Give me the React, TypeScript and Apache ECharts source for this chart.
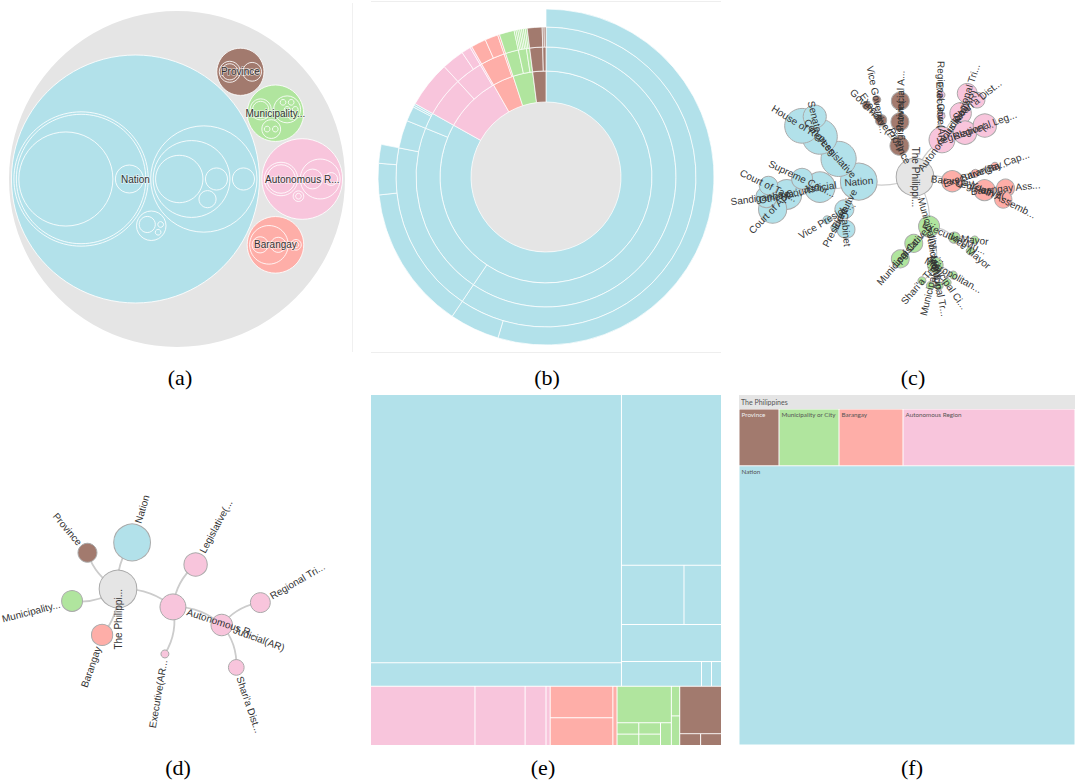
import React, { useEffect, useRef } from 'react';
import * as echarts from 'echarts';

type Pair = [string, number];

// ---------------- data ----------------
const congress: Pair[] = [['House of Representatives', 272], ['Senate', 24]];
const otherCourts: Pair[] = [['Court of Appeals', 69], ['Sandiganbayan', 15], ['Court of Tax Appeals', 9]];
const highCourt: Pair[] = [['Supreme Court', 15]];
const nationExecutive: Pair[] = [['Cabinet', 8], ['President', 1], ['Vice President', 1]];
const arLegislative: Pair[] = [['Regional Legislative Assembly', 25]];
const arJudicial: Pair[] = [['Regional Trial Court', 12], ["Shari'a District Court", 5]];
const arExecutive: Pair[] = [['Regional Governor', 1]];
const brgyLegislative: Pair[] = [['Barangay Assembly', 8], ['Youth Assembly', 7]];
const brgyExecutive: Pair[] = [['Barangay Captain', 1]];
const muniLegislative: Pair[] = [['Municipal Council', 8]];
const muniJudicial: Pair[] = [
  ['Metropolitan Trial Court', 1],
  ['Municipal Circuit Trial Court', 1],
  ['Municipal Trial Court', 1],
  ['Municipal Trial Court in Cities', 1],
  ["Shari'a Trial Court", 1],
];
const muniExecutive: Pair[] = [['Mayor', 1], ['Vice Mayor', 1]];
const provLegislative: Pair[] = [['Provincial Assembly', 8]];
const provExecutive: Pair[] = [['Governor', 1], ['Vice Governor', 1]];

const rootName = 'The Philippines';
const groupNames = ['Nation', 'Autonomous Region', 'Barangay', 'Municipality or City', 'Province'];
const cGroupOrder = ['Nation', 'Province', 'Autonomous Region', 'Barangay', 'Municipality or City'];
const expandedInD = ['The Philippines', 'Autonomous Region', 'Judicial(AR)'];
const captions = ['(a)', '(b)', '(c)', '(d)', '(e)', '(f)'];

// ---------------- styles ----------------
const groupColors = ['#b2e1ea', '#f8c5dc', '#feaea8', '#b0e59e', '#a27a6e'];
const rootColor = '#e5e5e5';
const SANS = "'Liberation Sans', Arial, sans-serif";

const leaves = (ps: Pair[]) => ps.map(([name, value]) => ({ name, value }));

const rawTree: any = {
  name: rootName,
  children: [
    {
      name: 'Nation',
      children: [
        { name: 'Legislative', children: [{ name: 'Congress', children: leaves(congress) }] },
        { name: 'Judicial', children: [{ name: 'Other Courts', children: leaves(otherCourts) }, ...leaves(highCourt)] },
        { name: 'Executive', children: leaves(nationExecutive) },
      ],
    },
    {
      name: 'Autonomous Region',
      children: [
        { name: 'Legislative(AR)', children: leaves(arLegislative) },
        { name: 'Judicial(AR)', children: leaves(arJudicial) },
        { name: 'Executive(AR)', children: leaves(arExecutive) },
      ],
    },
    {
      name: 'Barangay',
      children: [
        { name: 'Legislative(Barangay)', children: leaves(brgyLegislative) },
        { name: 'Executive(Barangay)', children: leaves(brgyExecutive) },
      ],
    },
    {
      name: 'Municipality or City',
      children: [
        { name: 'Legislative(Municipality)', children: leaves(muniLegislative) },
        { name: 'Judicial(Municipality)', children: leaves(muniJudicial) },
        { name: 'Executive(Municipality)', children: leaves(muniExecutive) },
      ],
    },
    {
      name: 'Province',
      children: [
        { name: 'Legislative(Province)', children: leaves(provLegislative) },
        { name: 'Executive(Province)', children: leaves(provExecutive) },
      ],
    },
  ],
};

interface HNode { name: string; value: number; children: HNode[]; color: string }

function finalize(n: any, color: string): HNode {
  const kids: HNode[] = (n.children || []).map((c: any) =>
    finalize(c, color === rootColor ? groupColors[groupNames.indexOf(c.name)] : color)
  );
  const value = kids.length ? kids.reduce((s, c) => s + c.value, 0) : n.value;
  return { name: n.name, value, children: kids, color };
}
const tree = finalize(rawTree, rootColor);

const truncate = (s: string) => (s.length > 12 ? s.slice(0, 12) + '...' : s);
const nodeSize = (v: number) => 8 + 11 * Math.log10(v);

// ---------------- circle packing (d3-style front chain) ----------------
function place(b: any, a: any, c: any) {
  const dx = b.x - a.x, dy = b.y - a.y, d2 = dx * dx + dy * dy;
  if (d2) {
    let a2 = a.r + c.r; a2 *= a2;
    let b2 = b.r + c.r; b2 *= b2;
    if (a2 > b2) {
      const x = (d2 + b2 - a2) / (2 * d2);
      const y = Math.sqrt(Math.max(0, b2 / d2 - x * x));
      c.x = b.x - x * dx - y * dy;
      c.y = b.y - x * dy + y * dx;
    } else {
      const x = (d2 + a2 - b2) / (2 * d2);
      const y = Math.sqrt(Math.max(0, a2 / d2 - x * x));
      c.x = a.x + x * dx - y * dy;
      c.y = a.y + x * dy + y * dx;
    }
  } else {
    c.x = a.x + c.r;
    c.y = a.y;
  }
}
function intersects(a: any, b: any) {
  const dr = a.r + b.r - 1e-6, dx = b.x - a.x, dy = b.y - a.y;
  return dr > 0 && dr * dr > dx * dx + dy * dy;
}
function score(node: any) {
  const a = node._, b = node.next._, ab = a.r + b.r;
  const dx = (a.x * b.r + b.x * a.r) / ab, dy = (a.y * b.r + b.y * a.r) / ab;
  return dx * dx + dy * dy;
}
function enclosesWeak(a: any, b: any) {
  const dr = a.r - b.r + Math.max(a.r, b.r, 1) * 1e-9, dx = b.x - a.x, dy = b.y - a.y;
  return dr > 0 && dr * dr > dx * dx + dy * dy;
}
function basis2(a: any, b: any) {
  const x21 = b.x - a.x, y21 = b.y - a.y, r21 = b.r - a.r, l = Math.sqrt(x21 * x21 + y21 * y21);
  return { x: (a.x + b.x + (x21 / l) * r21) / 2, y: (a.y + b.y + (y21 / l) * r21) / 2, r: (l + a.r + b.r) / 2 };
}
function basis3(a: any, b: any, c: any) {
  const x1 = a.x, y1 = a.y, r1 = a.r, x2 = b.x, y2 = b.y, r2 = b.r, x3 = c.x, y3 = c.y, r3 = c.r;
  const a2 = x1 - x2, a3 = x1 - x3, b2 = y1 - y2, b3 = y1 - y3, c2 = r2 - r1, c3 = r3 - r1;
  const d1 = x1 * x1 + y1 * y1 - r1 * r1;
  const d2 = d1 - x2 * x2 - y2 * y2 + r2 * r2;
  const d3 = d1 - x3 * x3 - y3 * y3 + r3 * r3;
  const ab = a3 * b2 - a2 * b3;
  const xa = (b2 * d3 - b3 * d2) / (ab * 2) - x1;
  const xb = (b3 * c2 - b2 * c3) / ab;
  const ya = (a3 * d2 - a2 * d3) / (ab * 2) - y1;
  const yb = (a2 * c3 - a3 * c2) / ab;
  const A = xb * xb + yb * yb - 1;
  const B = 2 * (r1 + xa * xb + ya * yb);
  const C = xa * xa + ya * ya - r1 * r1;
  const r = -(Math.abs(A) > 1e-6 ? (B + Math.sqrt(B * B - 4 * A * C)) / (2 * A) : C / B);
  return { x: x1 + xa + xb * r, y: y1 + ya + yb * r, r };
}
function enclose(cs: any[]) {
  let best: any = null;
  const consider = (e: any) => {
    if (!e || !isFinite(e.r) || !isFinite(e.x) || !isFinite(e.y)) return;
    if (!cs.every((c) => enclosesWeak(e, c))) return;
    if (!best || e.r < best.r) best = e;
  };
  for (let i = 0; i < cs.length; i++) consider({ x: cs[i].x, y: cs[i].y, r: cs[i].r });
  for (let i = 0; i < cs.length; i++) for (let j = i + 1; j < cs.length; j++) consider(basis2(cs[i], cs[j]));
  for (let i = 0; i < cs.length; i++)
    for (let j = i + 1; j < cs.length; j++)
      for (let k = j + 1; k < cs.length; k++) consider(basis3(cs[i], cs[j], cs[k]));
  return best;
}
function packSiblings(circles: any[]): number {
  const n = circles.length;
  if (!n) return 0;
  let a: any = circles[0], b: any, c: any;
  a.x = 0; a.y = 0;
  if (n === 1) return a.r;
  b = circles[1];
  a.x = -b.r; b.x = a.r; b.y = 0;
  if (n === 2) return a.r + b.r;
  place(b, a, (c = circles[2]));
  a = { _: a, next: null, previous: null };
  b = { _: b, next: null, previous: null };
  c = { _: c, next: null, previous: null };
  a.next = c.previous = b;
  b.next = a.previous = c;
  c.next = b.previous = a;
  pack: for (let i = 3; i < n; ++i) {
    place(a._, b._, (c = circles[i]));
    c = { _: c, next: null, previous: null };
    let j = b.next, k = a.previous, sj = b._.r, sk = a._.r;
    do {
      if (sj <= sk) {
        if (intersects(j._, c._)) { b = j; a.next = b; b.previous = a; --i; continue pack; }
        sj += j._.r; j = j.next;
      } else {
        if (intersects(k._, c._)) { a = k; a.next = b; b.previous = a; --i; continue pack; }
        sk += k._.r; k = k.previous;
      }
    } while (j !== k.next);
    c.previous = a; c.next = b; a.next = b.previous = b = c;
    let aa = score(a);
    while ((c = c.next) !== b) {
      const ca = score(c);
      if (ca < aa) { a = c; aa = ca; }
    }
    b = a.next;
  }
  const chain: any[] = [b._];
  c = b;
  while ((c = c.next) !== b) chain.push(c._);
  const e = enclose(chain);
  for (const ci of circles) { ci.x -= e.x; ci.y -= e.y; }
  return e.r;
}
function packRadii(n: any, pad: number) {
  if (!n.children.length) { n.r = Math.sqrt(n.value); return; }
  n.children.forEach((c: any) => packRadii(c, pad));
  const cs = n.children.map((c: any) => ({ x: 0, y: 0, r: c.r + pad }));
  const e = packSiblings(cs);
  n.children.forEach((c: any, i: number) => { c.x = cs[i].x; c.y = cs[i].y; });
  n.r = e + pad;
}
function computePack(root: HNode, cx: number, cy: number, R: number, padPx: number) {
  const clone = (h: HNode, depth: number): any => ({
    name: h.name, value: h.value, color: h.color, depth, x: 0, y: 0, r: 0,
    children: h.children.map((c) => clone(c, depth + 1)),
  });
  const p = clone(root, 0);
  packRadii(p, 0);
  const k1 = R / p.r;
  packRadii(p, padPx / 2 / k1);
  const k = R / p.r;
  const out: any[] = [];
  const walk = (n: any, ax: number, ay: number) => {
    out.push({ name: n.name, color: n.color, depth: n.depth, x: ax, y: ay, r: n.r * k });
    n.children.forEach((c: any) => walk(c, ax + c.x * k, ay + c.y * k));
  };
  walk(p, cx, cy);
  return out;
}
const packNodes = computePack(tree, 177, 179, 168, 3);

// ---------------- series data builders ----------------
function toSeriesNode(h: HNode): any {
  const o: any = { name: h.name, value: h.value, itemStyle: { color: h.color } };
  if (h.children.length) o.children = h.children.map(toSeriesNode);
  return o;
}

interface GNode { name: string; size: number; color: string; parent: string | null; depth: number }
interface G { nodes: GNode[]; links: [string, string][] }
function collectGraph(root: HNode, expand: (n: HNode) => boolean, order: (k: HNode[], d: number) => HNode[]): G {
  const g: G = { nodes: [], links: [] };
  const walk = (n: HNode, parent: string | null, depth: number) => {
    g.nodes.push({ name: n.name, size: nodeSize(n.value), color: n.color, parent, depth });
    if (parent) g.links.push([parent, n.name]);
    if (expand(n)) order(n.children.slice(), depth).forEach((c) => walk(c, n.name, depth + 1));
  };
  walk(root, null, 0);
  return g;
}
const cGraph = collectGraph(tree, () => true, (k, d) => {
  if (d === 0) return k.sort((a, b) => cGroupOrder.indexOf(a.name) - cGroupOrder.indexOf(b.name));
  if (d === 1) return k.sort((a, b) => a.value - b.value);
  return k;
});
const dGraph = collectGraph(tree, (n) => expandedInD.includes(n.name), (k) => k);

// radial-tree start followed by a d3-style force relaxation (link + many-body + collide)
function simulate(g: G, linkDistance: number, charge: number, ticks: number, collidePad: number) {
  const n = g.nodes.length;
  const idx: Record<string, number> = {};
  g.nodes.forEach((nd, i) => (idx[nd.name] = i));
  const kids: number[][] = g.nodes.map(() => []);
  g.links.forEach(([s, t]) => kids[idx[s]].push(idx[t]));
  const leafOrder: number[] = [];
  const dfs = (i: number) => { if (!kids[i].length) leafOrder.push(i); kids[i].forEach(dfs); };
  dfs(0);
  const ang: number[] = new Array(n).fill(0);
  leafOrder.forEach((li, k) => (ang[li] = (2 * Math.PI * (k + 0.5)) / leafOrder.length));
  const fillAng = (i: number): number => {
    if (!kids[i].length) return ang[i];
    const a = kids[i].map(fillAng);
    ang[i] = a.reduce((s, v) => s + v, 0) / a.length;
    return ang[i];
  };
  fillAng(0);
  const X: number[] = [], Y: number[] = [], VX: number[] = [], VY: number[] = [];
  const RR = g.nodes.map((nd) => nd.size / 2 + collidePad);
  g.nodes.forEach((nd, i) => {
    const r = nd.depth * linkDistance;
    X.push(r * Math.cos(ang[i])); Y.push(r * Math.sin(ang[i])); VX.push(0); VY.push(0);
  });
  const count = new Array(n).fill(0);
  g.links.forEach(([s, t]) => { count[idx[s]]++; count[idx[t]]++; });
  const L = g.links.map(([s, t]) => {
    const a = idx[s], b = idx[t];
    return { s: a, t: b, str: 1 / Math.min(count[a], count[b]), bias: count[a] / (count[a] + count[b]) };
  });
  let alpha = 1;
  const alphaDecay = 1 - Math.pow(0.001, 1 / 300);
  for (let k = 0; k < ticks; k++) {
    alpha += (0 - alpha) * alphaDecay;
    for (const l of L) {
      let x = X[l.t] + VX[l.t] - X[l.s] - VX[l.s];
      let y = Y[l.t] + VY[l.t] - Y[l.s] - VY[l.s];
      let len = Math.sqrt(x * x + y * y) || 1e-6;
      len = ((len - linkDistance) / len) * alpha * l.str;
      x *= len; y *= len;
      VX[l.t] -= x * l.bias; VY[l.t] -= y * l.bias;
      VX[l.s] += x * (1 - l.bias); VY[l.s] += y * (1 - l.bias);
    }
    for (let i = 0; i < n; i++) {
      for (let j = 0; j < n; j++) {
        if (i === j) continue;
        const dx = X[j] - X[i], dy = Y[j] - Y[i];
        let l2 = dx * dx + dy * dy;
        if (l2 < 1) l2 = Math.sqrt(l2 || 1e-6);
        const w = (charge * alpha) / l2;
        VX[i] += dx * w; VY[i] += dy * w;
      }
    }
    for (let i = 0; i < n; i++) {
      for (let j = i + 1; j < n; j++) {
        let x = X[i] + VX[i] - X[j] - VX[j];
        let y = Y[i] + VY[i] - Y[j] - VY[j];
        const r = RR[i] + RR[j];
        let l = x * x + y * y;
        if (l < r * r) {
          l = Math.sqrt(l) || 1e-6;
          l = ((r - l) / l) * 0.7;
          x *= l; y *= l;
          const ri2 = RR[i] * RR[i], rj2 = RR[j] * RR[j];
          const share = rj2 / (ri2 + rj2);
          VX[i] += x * share; VY[i] += y * share;
          VX[j] -= x * (1 - share); VY[j] -= y * (1 - share);
        }
      }
    }
    for (let i = 0; i < n; i++) {
      VX[i] *= 0.6; VY[i] *= 0.6;
      X[i] += VX[i]; Y[i] += VY[i];
    }
  }
  const out: Record<string, number[]> = {};
  g.nodes.forEach((nd, i) => (out[nd.name] = [X[i], Y[i]]));
  return out;
}

function forceGraph(g: G, box: any, force: any, lineStyle: any) {
  return {
    type: 'graph',
    layout: 'force',
    ...box,
    roam: false,
    silent: true,
    force: { ...force, initLayout: 'circular', layoutAnimation: false },
    data: g.nodes.map((n) => ({
      name: n.name,
      symbolSize: n.size,
      itemStyle: { color: n.color, borderColor: '#aaaaaa', borderWidth: 1 },
    })),
    links: g.links.map(([s, t]) => ({ source: s, target: t })),
    lineStyle,
    label: { show: false },
    emphasis: { disabled: true },
  };
}

function orient(raw: Record<string, number[]>, g: G, anchor: string, anchorAng: number, side: string, sideSign: number, origin: number[], maxR: number) {
  const o = raw[g.nodes[0].name];
  const a = raw[anchor];
  const rot = anchorAng - Math.atan2(a[1] - o[1], a[0] - o[0]);
  const c = Math.cos(rot), s = Math.sin(rot);
  const vec: Record<string, number[]> = {};
  for (const n of g.nodes) {
    const p = raw[n.name];
    const x = p[0] - o[0], y = p[1] - o[1];
    vec[n.name] = [x * c - y * s, x * s + y * c];
  }
  const sv = vec[side];
  let rel = Math.atan2(sv[1], sv[0]) - anchorAng;
  while (rel > Math.PI) rel -= 2 * Math.PI;
  while (rel <= -Math.PI) rel += 2 * Math.PI;
  if (Math.sign(rel) !== sideSign) {
    const dx = Math.cos(anchorAng), dy = Math.sin(anchorAng);
    for (const k in vec) {
      const [x, y] = vec[k];
      const dot = x * dx + y * dy;
      vec[k] = [2 * dot * dx - x, 2 * dot * dy - y];
    }
  }
  let m = 0;
  for (const k in vec) m = Math.max(m, Math.hypot(vec[k][0], vec[k][1]));
  const sc = m > 0 ? maxR / m : 1;
  const out: Record<string, number[]> = {};
  for (const k in vec) out[k] = [origin[0] + vec[k][0] * sc, origin[1] + vec[k][1] * sc];
  return out;
}

function readable(th: number) {
  const right = Math.cos(th) > 1e-6;
  let rot = right ? -th : Math.PI - th;
  while (rot > Math.PI) rot -= 2 * Math.PI;
  while (rot < -Math.PI) rot += 2 * Math.PI;
  return { right, deg: (rot * 180) / Math.PI };
}

function placedGraph(g: G, pos: Record<string, number[]>, labelFor: (n: GNode, th: number) => any, labelBase: any, lineStyle: any) {
  const xs = g.nodes.map((n) => pos[n.name][0]);
  const ys = g.nodes.map((n) => pos[n.name][1]);
  const minX = Math.min(...xs), maxX = Math.max(...xs), minY = Math.min(...ys), maxY = Math.max(...ys);
  return {
    type: 'graph',
    layout: 'none',
    left: minX,
    top: minY,
    width: maxX - minX,
    height: maxY - minY,
    roam: false,
    silent: true,
    data: g.nodes.map((n) => {
      const p = pos[n.name];
      const q = n.parent ? pos[n.parent] : null;
      const th = q ? Math.atan2(p[1] - q[1], p[0] - q[0]) : NaN;
      return {
        name: n.name,
        x: p[0],
        y: p[1],
        symbolSize: n.size,
        itemStyle: { color: n.color, borderColor: '#aaaaaa', borderWidth: 1 },
        label: labelFor(n, th),
      };
    }),
    links: g.links.map(([s, t]) => ({ source: s, target: t })),
    lineStyle,
    label: labelBase,
    emphasis: { disabled: true },
  };
}

const cLine = { color: '#cccccc', width: 1.2, curveness: 0.2, opacity: 1 };
const dLine = { color: '#cccccc', width: 1.8, curveness: 0.2, opacity: 1 };

function cLabel(n: GNode, th: number) {
  if (isNaN(th)) return { show: true, position: 'inside', rotate: -90 };
  const r = readable(th);
  return { show: true, position: 'inside', rotate: r.deg };
}
function dLabel(n: GNode, th: number) {
  let off = n.size / 2 + 2;
  if (isNaN(th)) { th = Math.PI / 2; off = 0; }
  const r = readable(th);
  return {
    show: true,
    position: 'inside',
    rotate: r.deg,
    offset: [r.right ? off : -off, 0],
    align: r.right ? 'left' : 'right',
    verticalAlign: 'middle',
  };
}

const cPos = orient(simulate(cGraph, 37, -25, 300, 1.5), cGraph, 'Nation', Math.atan2(3, -37), 'Province', 1, [915, 177], 150);

function buildOption(dPos: Record<string, number[]> | null) {
  const capPos = [[180, 377], [547, 377], [913, 377], [178, 767], [543, 767], [912, 767]];
  const graphic: any[] = [
    { type: 'line', shape: { x1: 371, y1: 1.5, x2: 721, y2: 1.5 }, style: { stroke: '#eeeeee', lineWidth: 1 }, silent: true },
    { type: 'line', shape: { x1: 371, y1: 352.5, x2: 721, y2: 352.5 }, style: { stroke: '#eeeeee', lineWidth: 1 }, silent: true },
    { type: 'line', shape: { x1: 352.5, y1: 3, x2: 352.5, y2: 352 }, style: { stroke: '#f0f0f0', lineWidth: 1 }, silent: true },
    ...captions.map((t, i) => ({
      type: 'text',
      x: capPos[i][0],
      y: capPos[i][1],
      silent: true,
      style: { text: t, fill: '#000', fontSize: 22, fontFamily: "'Liberation Serif', 'Times New Roman', serif", align: 'center', verticalAlign: 'middle' },
    })),
  ];

  const packSeries = {
    type: 'custom',
    coordinateSystem: 'none',
    silent: true,
    data: packNodes.map((n) => [n.x, n.y, n.r, n.depth]),
    renderItem: (params: any, api: any) => {
      const n = packNodes[params.dataIndex];
      return {
        type: 'circle',
        shape: { cx: api.value(0), cy: api.value(1), r: api.value(2) },
        style: {
          fill: n.depth === 0 ? rootColor : n.color,
          stroke: n.depth === 0 ? null : 'rgba(255,255,255,0.85)',
          lineWidth: n.depth === 0 ? 0 : 1,
        },
      };
    },
  };
  const packLabels = packNodes.filter((n) => n.depth === 1);
  const packLabelSeries = {
    type: 'custom',
    coordinateSystem: 'none',
    silent: true,
    z: 3,
    data: packLabels.map((n) => [n.x, n.y]),
    renderItem: (params: any, api: any) => ({
      type: 'text',
      x: api.value(0),
      y: api.value(1),
      style: {
        text: truncate(packLabels[params.dataIndex].name),
        fill: '#333',
        fontSize: 10,
        fontFamily: SANS,
        align: 'center',
        verticalAlign: 'middle',
        stroke: 'rgba(255,255,255,0.55)',
        lineWidth: 1.5,
      },
    }),
  };

  const sunburst = {
    type: 'sunburst',
    center: [546, 177],
    radius: [0, 168],
    sort: null,
    nodeClick: false,
    silent: true,
    startAngle: 90,
    data: [toSeriesNode(tree)],
    label: { show: false },
    itemStyle: { borderColor: '#ffffff', borderWidth: 0.7 },
    emphasis: { disabled: true },
    levels: [
      {},
      { r0: 0, r: 75, itemStyle: { borderWidth: 0 } },
      { r0: 75, r: 106 },
      { r0: 106, r: 130 },
      { r0: 130, r: 150 },
      { r0: 150, r: 168 },
    ],
  };

  const cBase = { show: true, fontSize: 10, color: '#333', fontFamily: SANS, formatter: (p: any) => truncate(p.name) };
  const graphC = placedGraph(cGraph, cPos, cLabel, cBase, cLine);
  const dBase = { show: true, fontSize: 10, color: '#333', fontFamily: SANS, formatter: (p: any) => truncate(p.name) };
  const graphD = dPos
    ? placedGraph(dGraph, dPos, dLabel, dBase, dLine)
    : forceGraph(dGraph, { left: 20, top: 480, width: 300, height: 260 }, { repulsion: 160, edgeLength: 48, gravity: 0.08 }, dLine);

  const treemapE = {
    type: 'treemap',
    left: 371,
    top: 395,
    width: 350,
    height: 350,
    roam: false,
    nodeClick: false,
    silent: true,
    breadcrumb: { show: false },
    sort: 'desc',
    label: { show: false },
    upperLabel: { show: false },
    itemStyle: { borderColor: '#ffffff', borderWidth: 0, gapWidth: 1 },
    data: tree.children.map(toSeriesNode),
    emphasis: { disabled: true },
  };

  const fData = [
    {
      name: tree.name,
      value: tree.value,
      children: tree.children.map((g) => ({
        name: g.name,
        value: g.value,
        itemStyle: { color: g.color },
        label: g.name === 'Province' ? { color: '#eeeeee' } : undefined,
      })),
    },
  ];
  const treemapF = {
    type: 'treemap',
    left: 739,
    top: 395,
    width: 336,
    height: 350,
    roam: false,
    nodeClick: false,
    silent: true,
    breadcrumb: { show: false },
    sort: 'asc',
    data: fData,
    emphasis: { disabled: true },
    levels: [
      { itemStyle: { borderWidth: 0, gapWidth: 0 }, upperLabel: { show: false } },
      {
        itemStyle: { borderColor: rootColor, borderWidth: 0, gapWidth: 0 },
        upperLabel: { show: true, height: 14, color: '#555', fontSize: 7, fontFamily: 'Lato, sans-serif', padding: [0, 0, 0, 2] },
      },
      {
        itemStyle: { borderColor: '#ffffff', borderWidth: 0.5 },
        label: { show: true, position: 'insideTopLeft', distance: 2, padding: 0, color: '#555', fontSize: 6.3, fontFamily: 'Lato, sans-serif', overflow: 'none' },
      },
    ],
  };

  return {
    animation: false,
    backgroundColor: '#ffffff',
    graphic,
    series: [packSeries, packLabelSeries, sunburst, graphC, graphD, treemapE, treemapF],
  };
}

function readPositions(chart: any, idx: number) {
  const sm = chart.getModel().getSeriesByIndex(idx);
  const data = sm.getData();
  const pos: Record<string, number[]> = {};
  for (let i = 0; i < data.count(); i++) {
    const l = data.getItemLayout(i);
    if (l) pos[data.getName(i)] = [l[0], l[1]];
  }
  return pos;
}

export default function App() {
  const ref = useRef<HTMLDivElement>(null);
  useEffect(() => {
    if (!ref.current) return;
    const chart = echarts.init(ref.current, null, { renderer: 'svg' });
    chart.setOption(buildOption(null) as any, true);
    try {
      const rawD = readPositions(chart, 4);
      const dPos = orient(rawD, dGraph, 'Autonomous Region', Math.atan2(15, 46), 'Nation', -1, [118, 589], 143);
      chart.setOption(buildOption(dPos) as any, true);
    } catch (e) {
      // keep force layout result
    }
    return () => chart.dispose();
  }, []);
  return <div ref={ref} style={{ position: 'fixed', left: 0, top: 0, width: 1084, height: 784, background: '#fff' }} />;
}
